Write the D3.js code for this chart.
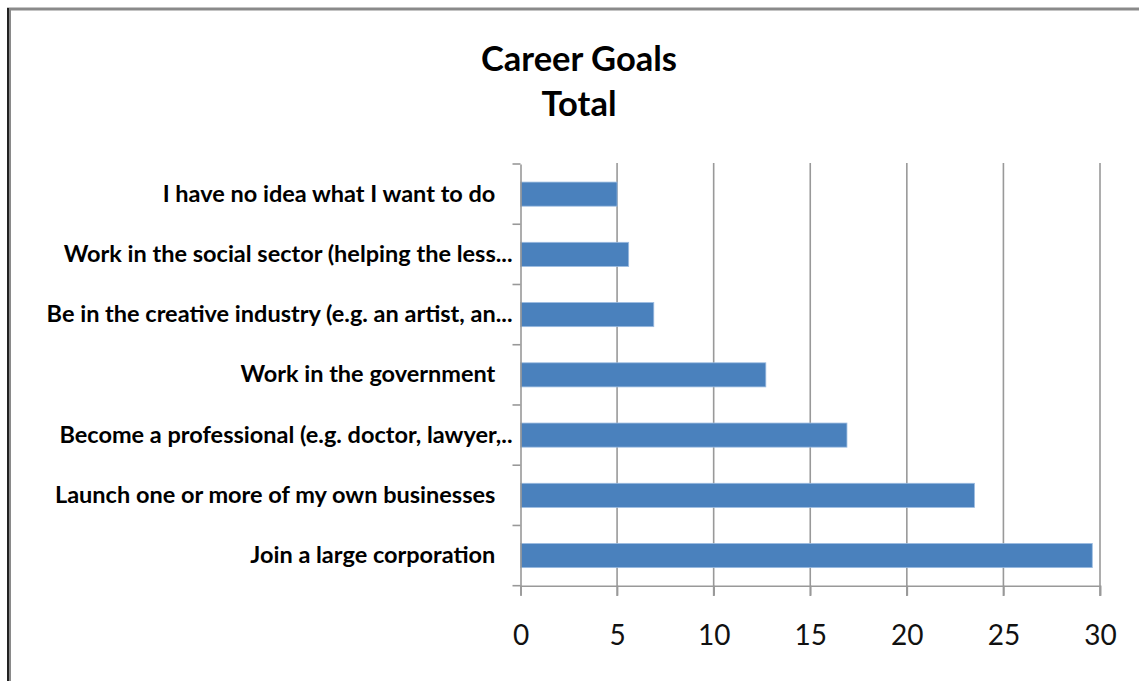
<!DOCTYPE html>
<html>
<head>
<meta charset="utf-8">
<script src="https://cdn.jsdelivr.net/npm/d3@7"></script>
<style>
  html, body { margin: 0; padding: 0; background: #fff; }
  svg { display: block; }
  .cat text { white-space: pre; }
</style>
</head>
<body>
<div id="chart"></div>
<script>
const categories = [
    "I have no idea what I want to do   ",
    "Work in the social sector (helping the less...",
    "Be in the creative industry (e.g. an artist, an...",
    "Work in the government   ",
    "Become a professional (e.g. doctor, lawyer,..",
    "Launch one or more of my own businesses   ",
    "Join a large corporation   "
];
const values = [5.0, 5.6, 6.9, 12.7, 16.9, 23.5, 29.6];
const ticks = [0, 5, 10, 15, 20, 25, 30];
const titleLines = ["Career Goals", "Total"];

const width = 1139;
const height = 681;
const font = "Lato, 'Open Sans', sans-serif";

const svg = d3.select("#chart").append("svg")
    .attr("width", width)
    .attr("height", height);

// outer frame (only top and left edges visible)
svg.append("line").attr("x1", 7).attr("x2", width).attr("y1", 9).attr("y2", 9)
    .attr("stroke", "#8a8a8a").attr("stroke-width", 3);
svg.append("line").attr("x1", 8).attr("x2", 8).attr("y1", 8).attr("y2", height)
    .attr("stroke", "#222").attr("stroke-width", 2);
svg.append("line").attr("x1", 10).attr("x2", 10).attr("y1", 8).attr("y2", height)
    .attr("stroke", "#8a8a8a").attr("stroke-width", 2);

const x = d3.scaleLinear().domain([0, 30]).range([520.5, 1100]);
const y = d3.scaleBand().domain(categories).range([164, 585.7]).paddingInner(0.6).paddingOuter(0.3);

// title
svg.append("g").selectAll("text")
    .data(titleLines)
    .join("text")
    .attr("x", 579)
    .attr("y", (d, i) => 71 + i * 45)
    .attr("text-anchor", "middle")
    .attr("font-family", font)
    .attr("font-weight", "bold")
    .attr("font-size", 34.5)
    .attr("fill", "#000")
    .text(d => d);

// vertical gridlines
svg.append("g").selectAll("line")
    .data(ticks.slice(1))
    .join("line")
    .attr("x1", d => x(d)).attr("x2", d => x(d))
    .attr("y1", 163).attr("y2", 596)
    .attr("stroke", "#999").attr("stroke-width", 1.6);

// bars
svg.append("g").selectAll("rect")
    .data(values)
    .join("rect")
    .attr("x", x(0))
    .attr("y", (d, i) => y(categories[i]))
    .attr("width", d => x(d) - x(0))
    .attr("height", y.bandwidth())
    .attr("fill", "#4a81bd")
    .attr("stroke", "#9bbbe0")
    .attr("stroke-width", 0.8);

// x axis
const xAxis = svg.append("g")
    .attr("transform", "translate(0,585.7)")
    .call(d3.axisBottom(x).tickValues(ticks).tickSize(10).tickPadding(29).tickFormat(d3.format("d")));
xAxis.select(".domain").attr("stroke", "#999").attr("stroke-width", 1.6);
xAxis.selectAll(".tick line").attr("stroke", "#999").attr("stroke-width", 1.6);
xAxis.selectAll(".tick text")
    .attr("font-family", font)
    .attr("font-size", 28)
    .attr("fill", "#111");

// y axis
const yAxis = svg.append("g")
    .attr("class", "cat")
    .attr("transform", "translate(520.5,0)")
    .call(d3.axisLeft(y).tickSize(0).tickPadding(8));
yAxis.select(".domain").attr("stroke", "#999").attr("stroke-width", 1.6);
yAxis.selectAll(".tick text")
    .attr("font-family", font)
    .attr("font-weight", "bold")
    .attr("font-size", 23.5)
    .attr("fill", "#000");

// category boundary ticks on the y axis
const bounds = d3.range(categories.length + 1).map(i => 164 + i * y.step());
yAxis.append("g").selectAll("line")
    .data(bounds)
    .join("line")
    .attr("x1", -8).attr("x2", 0)
    .attr("y1", d => d).attr("y2", d => d)
    .attr("stroke", "#999").attr("stroke-width", 1.6);
</script>
</body>
</html>
